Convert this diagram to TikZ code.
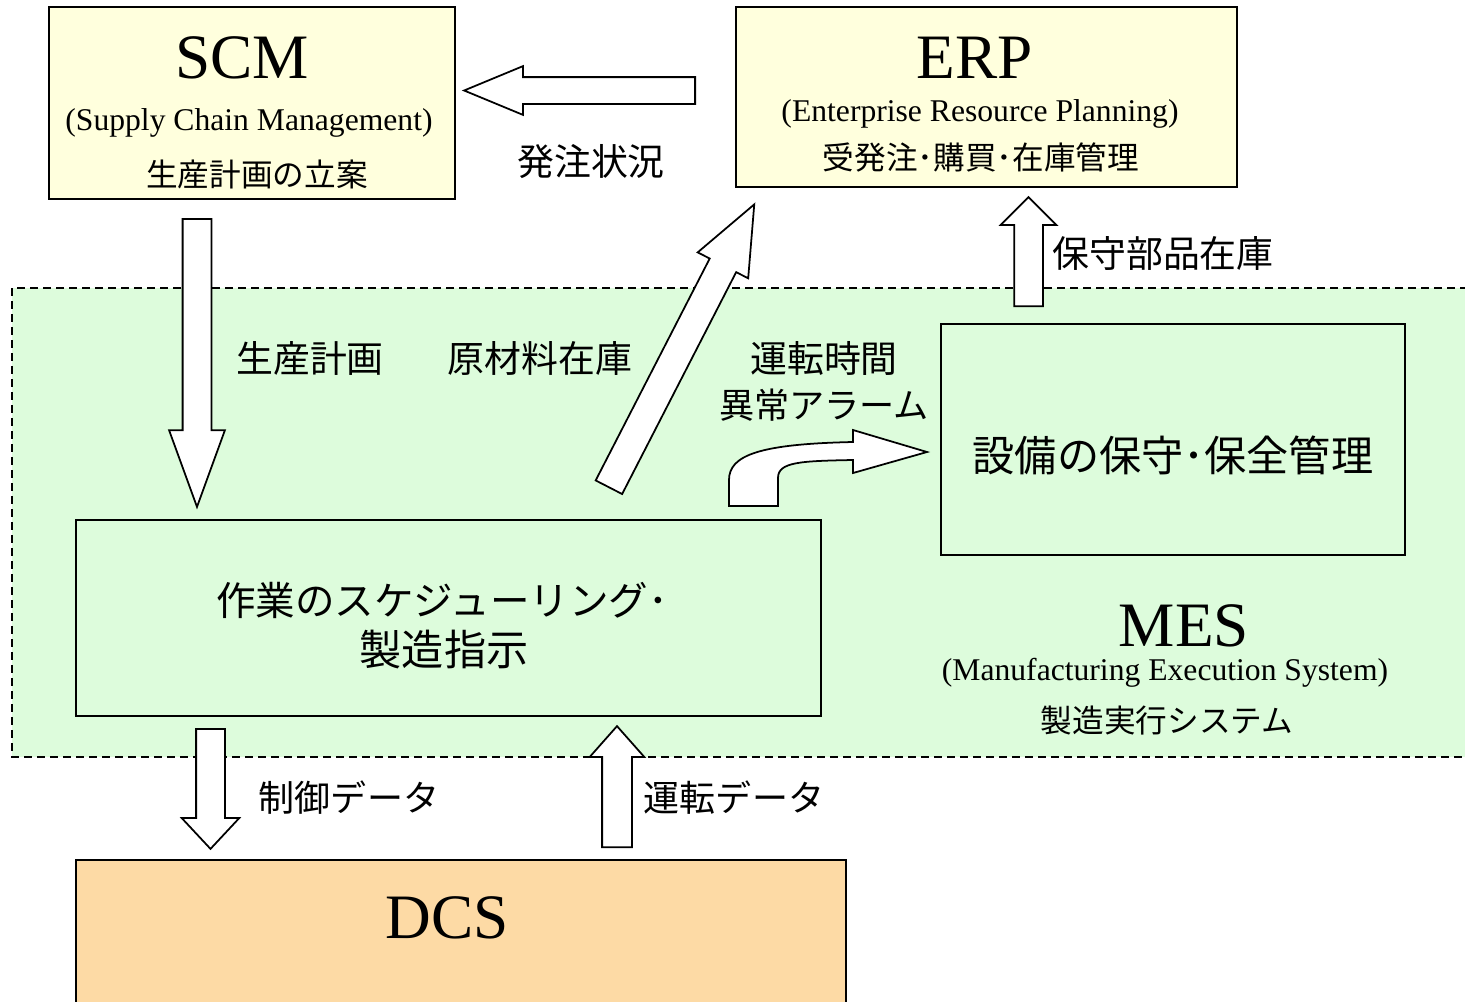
\documentclass[tikz,border=0pt]{standalone}
\usepackage{fontspec}
\setmainfont{Liberation Serif}
\newfontfamily\jp{Noto Sans CJK JP}
\usetikzlibrary{shapes.arrows}

\definecolor{scmyellow}{RGB}{255,255,221}
\definecolor{mesgreen}{RGB}{221,252,220}
\definecolor{dcsorange}{RGB}{253,218,165}

\begin{document}
\begin{tikzpicture}[x=0.2mm, y=-0.2mm,
    sysbox/.style = {shape=rectangle, draw, line width=1.1pt,
      inner sep=0pt},
    blockarrow/.style = {shape=single arrow, draw, fill=white,
      line width=1pt, inner xsep=0pt, single arrow head indent=0pt,
      anchor=tail},
    title/.style = {inner sep=0pt, font=\fontsize{36}{40}\selectfont},
    subtitle/.style = {inner sep=0pt, font=\fontsize{18}{21}\selectfont},
    jptext/.style = {inner sep=0pt, font=\jp\fontsize{18}{21}\selectfont},
    jpbig/.style = {inner sep=0pt, font=\jp\fontsize{24}{28}\selectfont},
    lbl/.style = {inner sep=0pt, font=\jp\fontsize{21}{25}\selectfont}
  ]
    \useasboundingbox (0,0) rectangle (1465,1001);

    % MES area
    \draw[dashed, dash pattern=on 1.6mm off 1mm, line width=0.8pt,
      fill=mesgreen] (12,288) rectangle (1480,757);

    % systems
    \node[sysbox, fill=scmyellow, minimum width=81.2mm, minimum height=38.4mm]
      (scm) at (252,103) {};
    \node[sysbox, fill=scmyellow, minimum width=100.2mm, minimum height=36mm]
      (erp) at (986.5,97) {};
    \node[sysbox, fill=mesgreen, minimum width=149mm, minimum height=39.2mm]
      (sched) at (448.5,618) {};
    \node[sysbox, fill=mesgreen, minimum width=92.8mm, minimum height=46.2mm]
      (maint) at (1173,439.5) {};
    \node[sysbox, fill=dcsorange, minimum width=154mm, minimum height=31.4mm]
      (dcs) at (461,938.5) {};

    \node[title] (scmtitle) at (242,58) {SCM};
    \node[subtitle] (scmsub) at (249,123) {(Supply Chain Management)};
    \node[jptext] (scmjp) at (257,174) {生産計画の立案};

    \node[title] (erptitle) at (975,58) {ERP};
    \node[subtitle] (erpsub) at (980,114) {(Enterprise Resource Planning)};
    \node[jptext] (erpjp) at (981,157) {受発注･購買･在庫管理};

    \node[jpbig, font=\jp\fontsize{22.5}{26}\selectfont] (schedl1) at (442,600)
      {作業のスケジューリング･};
    \node[jpbig] (schedl2) at (444,650) {製造指示};
    \node[jpbig] (mainttext) at (1173,455) {設備の保守･保全管理};

    \node[title] (mestitle) at (1184,626) {MES};
    \node[subtitle] (messub) at (1165,673) {(Manufacturing Execution System)};
    \node[jptext] (mesjp) at (1167,720) {製造実行システム};

    \node[title] (dcstitle) at (447,918) {DCS};

    % block arrows
    \node[blockarrow, rotate=180, minimum height=46.2mm, inner ysep=2.5mm,
      single arrow head extend=2.2mm, single arrow tip angle=45]
      (order) at (696,90.5) {};
    \node[blockarrow, rotate=-90, minimum height=57.6mm, inner ysep=2.7mm,
      single arrow head extend=2.7mm, single arrow tip angle=40]
      (plan) at (197,218) {};
    \node[blockarrow, rotate=62.8, minimum height=63.6mm, inner ysep=2.8mm,
      single arrow head extend=2.7mm, single arrow tip angle=45]
      (material) at (608.5,488) {};
    \node[blockarrow, rotate=90, minimum height=21.8mm, inner ysep=2.7mm,
      single arrow head extend=2.7mm, single arrow tip angle=90]
      (parts) at (1028.5,307) {};
    \node[blockarrow, rotate=-90, minimum height=24mm, inner ysep=2.7mm,
      single arrow head extend=2.9mm, single arrow tip angle=86]
      (control) at (210.5,728) {};
    \node[blockarrow, rotate=90, minimum height=24.2mm, inner ysep=2.8mm,
      single arrow head extend=2.5mm, single arrow tip angle=83]
      (operation) at (617,848) {};

    % curved arrow to maintenance
    \draw[fill=white, line width=1pt] (729,506) -- (729,480)
      .. controls (729,455) and (760,444) .. (853,442)
      -- (853,430) -- (927,452) -- (853,473) -- (853,460)
      .. controls (800,461) and (778,462) .. (778,478)
      -- (778,506) -- cycle;

    % labels
    \node[lbl] (orderlbl) at (591,162) {発注状況};
    \node[lbl] (partslbl) at (1163,253) {保守部品在庫};
    \node[lbl] (planlbl) at (310,358) {生産計画};
    \node[lbl] (materiallbl) at (540,358) {原材料在庫};
    \node[lbl] (runlbl) at (824,358) {運転時間};
    \node[lbl, font=\jp\fontsize{20}{24}\selectfont] (alarmlbl) at (824,405)
      {異常アラーム};
    \node[lbl, font=\jp\fontsize{20.5}{24}\selectfont] (controllbl) at (349,798)
      {制御データ};
    \node[lbl, font=\jp\fontsize{20.5}{24}\selectfont] (operationlbl) at (734,798)
      {運転データ};
\end{tikzpicture}
\end{document}
